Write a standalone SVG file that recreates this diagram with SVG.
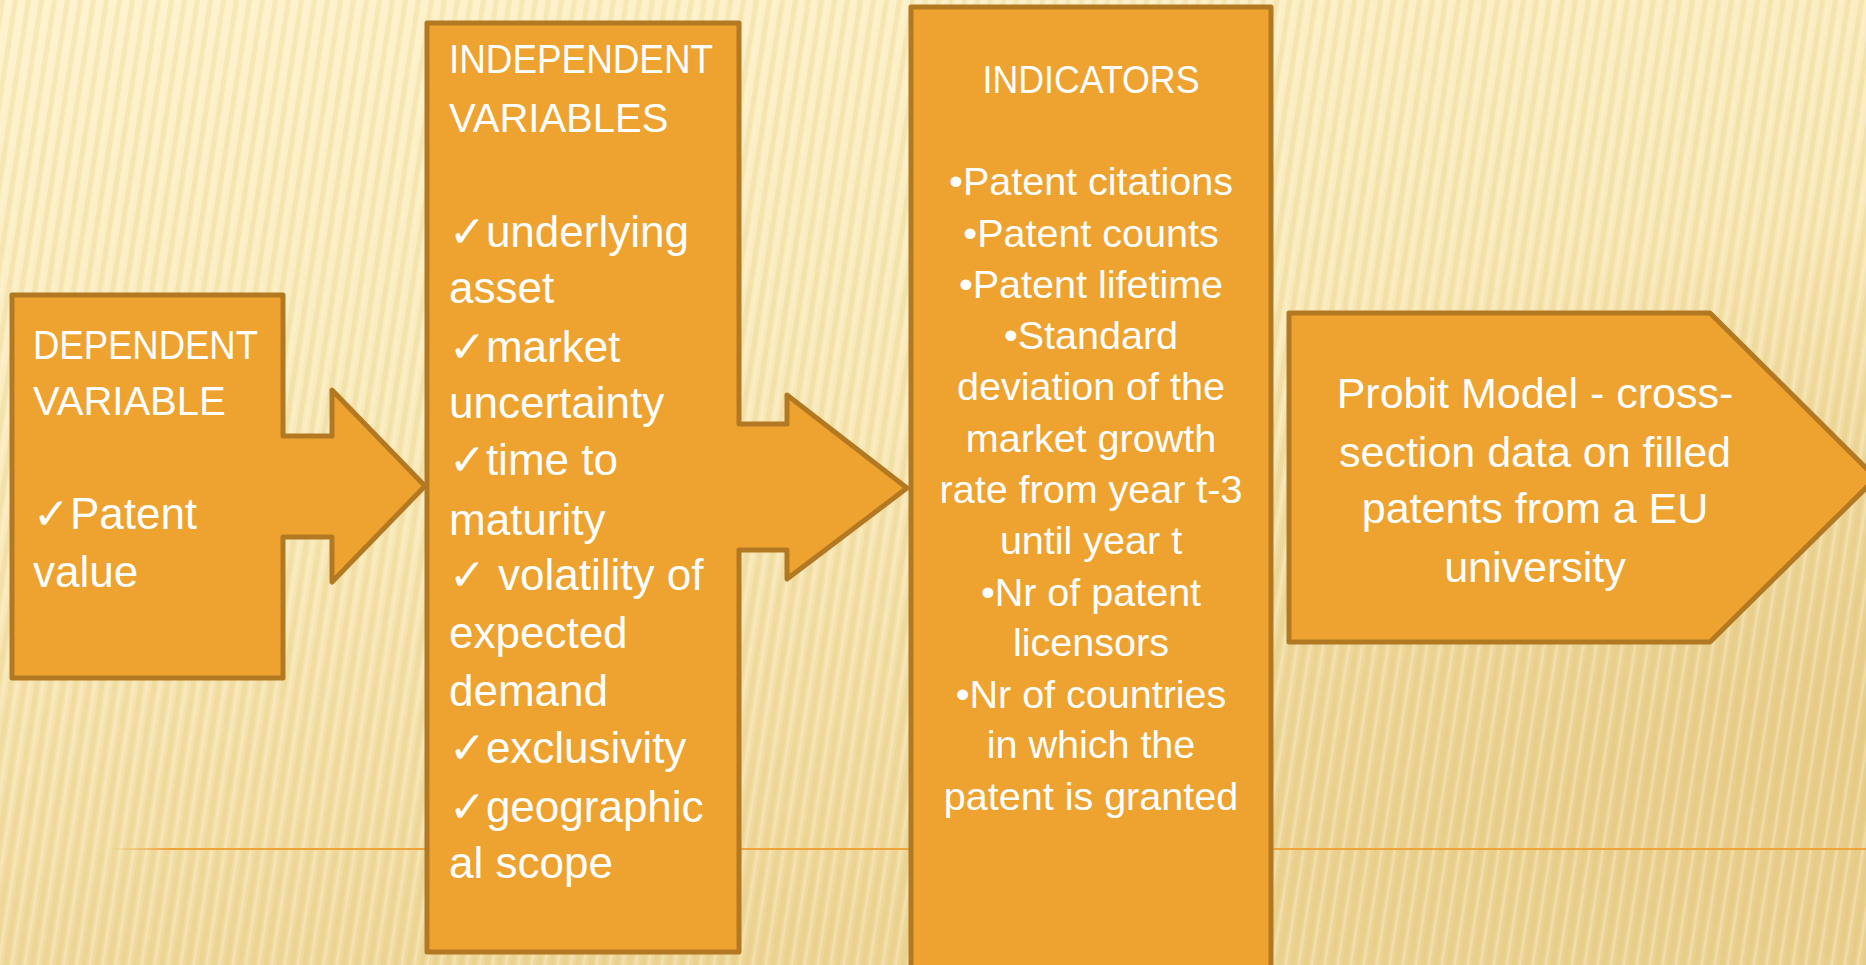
<svg xmlns="http://www.w3.org/2000/svg" width="1866" height="965" viewBox="0 0 1866 965">
  <defs>
    <linearGradient id="bgGrad" x1="0" y1="0" x2="0.35" y2="1">
      <stop offset="0" stop-color="#FEF3CC"/>
      <stop offset="0.55" stop-color="#F8E8B6"/>
      <stop offset="1" stop-color="#EDD698"/>
    </linearGradient>
    <radialGradient id="shade" cx="1.05" cy="0.75" r="0.55">
      <stop offset="0" stop-color="#E2C47E" stop-opacity="0.55"/>
      <stop offset="1" stop-color="#E2C47E" stop-opacity="0"/>
    </radialGradient>
    <linearGradient id="lineFade" x1="110" y1="0" x2="170" y2="0" gradientUnits="userSpaceOnUse">
      <stop offset="0" stop-color="#EFA43A" stop-opacity="0"/>
      <stop offset="1" stop-color="#EFA43A" stop-opacity="1"/>
    </linearGradient>
    <pattern id="stripes" patternUnits="userSpaceOnUse" width="13" height="965" patternTransform="skewX(-9)">
      <rect x="0" y="0" width="5" height="965" fill="#DDBE6E" opacity="0.2"/>
      <rect x="7" y="0" width="3" height="965" fill="#FFF8DC" opacity="0.3"/>
    </pattern>
    <style>
      .shape { fill: #EEA330; stroke: #B27822; stroke-width: 5; stroke-linejoin: round; }
      .t { font-family: "Liberation Sans", Arial, sans-serif; fill: #FFFFFF; }
      .head { font-size: 40px; }
      .body { font-size: 44px; }
      .ind { font-size: 39.5px; text-anchor: middle; }
      .prob { font-size: 43px; text-anchor: middle; }
      .chk { font-family: "DejaVu Sans", sans-serif; font-size: 44px; }
    </style>
  </defs>

  <g id="background">
    <rect x="0" y="0" width="1866" height="965" fill="url(#bgGrad)"/>
    <rect x="0" y="0" width="1866" height="965" fill="url(#shade)"/>
    <rect x="0" y="0" width="1866" height="965" fill="url(#stripes)"/>
    <line x1="110" y1="849" x2="1866" y2="849" stroke="url(#lineFade)" stroke-width="2"/>
  </g>

  <g id="connectors"></g>

  <g id="node-dependent">
    <path class="shape" d="M12,295 H283 V436 H332 V390 L425,486 L332,582 V537 H283 V678 H12 Z"/>
    <text class="t head" x="33" y="359" textLength="225" lengthAdjust="spacingAndGlyphs">DEPENDENT</text>
    <text class="t head" x="33" y="415">VARIABLE</text>
    <text class="t body" x="33" y="529"><tspan class="chk">✓</tspan>Patent</text>
    <text class="t body" x="33" y="587">value</text>
  </g>

  <g id="node-independent">
    <path class="shape" d="M427,23 H739 V424 H787 V395 L907,488 L787,579 V550 H739 V952 H427 Z"/>
    <text class="t head" x="449" y="73" textLength="264" lengthAdjust="spacingAndGlyphs">INDEPENDENT</text>
    <text class="t head" x="449" y="132">VARIABLES</text>
    <text class="t body" x="449" y="247"><tspan class="chk">✓</tspan>underlying</text>
    <text class="t body" x="449" y="303">asset</text>
    <text class="t body" x="449" y="362"><tspan class="chk">✓</tspan>market</text>
    <text class="t body" x="449" y="418">uncertainty</text>
    <text class="t body" x="449" y="475"><tspan class="chk">✓</tspan>time to</text>
    <text class="t body" x="449" y="535">maturity</text>
    <text class="t body" x="449" y="590"><tspan class="chk">✓</tspan> volatility of</text>
    <text class="t body" x="449" y="648">expected</text>
    <text class="t body" x="449" y="706">demand</text>
    <text class="t body" x="449" y="763"><tspan class="chk">✓</tspan>exclusivity</text>
    <text class="t body" x="449" y="822"><tspan class="chk">✓</tspan>geographic</text>
    <text class="t body" x="449" y="878">al scope</text>
  </g>

  <g id="node-indicators">
    <rect class="shape" x="911" y="7" width="360" height="975"/>
    <text class="t ind" x="1091" y="93" style="font-size:39px" textLength="217" lengthAdjust="spacingAndGlyphs">INDICATORS</text>
    <text class="t ind" x="1091" y="195">•Patent citations</text>
    <text class="t ind" x="1091" y="247">•Patent counts</text>
    <text class="t ind" x="1091" y="298">•Patent lifetime</text>
    <text class="t ind" x="1091" y="349">•Standard</text>
    <text class="t ind" x="1091" y="400">deviation of the</text>
    <text class="t ind" x="1091" y="452">market growth</text>
    <text class="t ind" x="1091" y="503">rate from year t-3</text>
    <text class="t ind" x="1091" y="554">until year t</text>
    <text class="t ind" x="1091" y="606">•Nr of patent</text>
    <text class="t ind" x="1091" y="656">licensors</text>
    <text class="t ind" x="1091" y="708">•Nr of countries</text>
    <text class="t ind" x="1091" y="758">in which the</text>
    <text class="t ind" x="1091" y="810">patent is granted</text>
  </g>

  <g id="node-probit">
    <path class="shape" d="M1289,313 H1710 L1876,478 L1710,642 H1289 Z"/>
    <text class="t prob" x="1535" y="408">Probit Model - cross-</text>
    <text class="t prob" x="1535" y="467">section data on filled</text>
    <text class="t prob" x="1535" y="523">patents from a EU</text>
    <text class="t prob" x="1535" y="582">university</text>
  </g>
</svg>
